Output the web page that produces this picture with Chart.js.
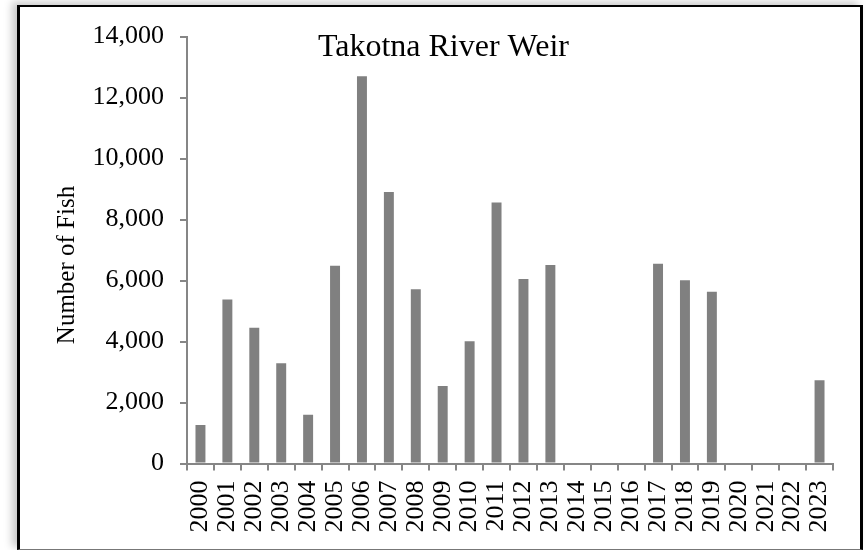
<!DOCTYPE html>
<html>
<head>
<meta charset="utf-8">
<script src="https://cdn.jsdelivr.net/npm/chart.js@4/dist/chart.umd.min.js"></script>
<style>
  html, body { margin: 0; padding: 0; background: #fff; }
  body { width: 866px; height: 550px; position: relative; overflow: hidden; }
  #frame {
    position: absolute; left: 17px; top: 5px; width: 846px; height: 545px;
    box-sizing: border-box; background: #fff;
    border-top: 2px solid #000; border-left: 3px solid #000; border-right: 3px solid #000;
    border-bottom: 1px solid #777;
    box-shadow: -5px -3px 8px rgba(0,0,0,0.22);
  }
  #wrap { position: absolute; left: 0; top: 0; width: 866px; height: 550px; }
</style>
</head>
<body>
<div id="frame"></div>
<div id="wrap"><canvas id="chart"></canvas></div>
<script>
// escapement counts (null = no count that year)
const years = ["2000","2001","2002","2003","2004","2005","2006","2007","2008","2009","2010","2011",
               "2012","2013","2014","2015","2016","2017","2018","2019","2020","2021","2022","2023"];
const fishCounts = [1260, 5380, 4450, 3290, 1600, 6480, 12700, 8900, 5710, 2540, 4010, 8560,
                    6050, 6510, null, null, null, 6550, 6010, 5630, null, null, null, 2730];
const yTicks = [0, 2000, 4000, 6000, 8000, 10000, 12000, 14000];
const chartTitle = "Takotna River Weir";
const yTitle = "Number of Fish";

const axisGray = "#868686";
const serif = "'Liberation Serif', 'Times New Roman', serif";

// title inside the plot area, and the y title a bit below the middle
const textPlugin = {
  id: "extraText",
  afterDraw(chart) {
    const { ctx, chartArea } = chart;
    ctx.save();
    ctx.fillStyle = "#000";
    ctx.textAlign = "center";
    ctx.textBaseline = "middle";
    ctx.font = "32px " + serif;
    ctx.fillText(chartTitle, chartArea.left + (chartArea.right - chartArea.left) * 0.397, chartArea.top + 11);
    ctx.font = "25px " + serif;
    ctx.translate(67, (chartArea.top + chartArea.bottom) / 2 + 15);
    ctx.rotate(-Math.PI / 2);
    ctx.fillText(yTitle, 0, 0);
    ctx.restore();
  }
};

new Chart(document.getElementById("chart"), {
  type: "bar",
  data: {
    labels: years,
    datasets: [{
      data: fishCounts,
      backgroundColor: "#808080",
      borderWidth: 0,
      barPercentage: 0.37,
      categoryPercentage: 1.0
    }]
  },
  options: {
    responsive: true,
    maintainAspectRatio: false,
    animation: false,
    layout: { padding: { top: 36.5, right: 33, bottom: 0, left: 0 } },
    plugins: { legend: { display: false }, tooltip: { enabled: false }, title: { display: false } },
    scales: {
      x: {
        offset: true,
        grid: { display: true, drawOnChartArea: false, drawTicks: true, tickLength: 7, color: axisGray, lineWidth: 2, offset: true },
        border: { display: true, color: axisGray, width: 2 },
        ticks: { autoSkip: false, minRotation: 90, maxRotation: 90, padding: 10, color: "#000", font: { family: serif, size: 26 } },
        afterFit(scale) { scale.height = 86.5; }
      },
      y: {
        min: 0, max: 14000,
        afterBuildTicks(scale) { scale.ticks = yTicks.map(v => ({ value: v })); },
        grid: { display: true, drawOnChartArea: false, drawTicks: true, tickLength: 7, color: axisGray, lineWidth: 2 },
        border: { display: true, color: axisGray, width: 2 },
        ticks: {
          padding: 16, color: "#000", font: { family: serif, size: 26 },
          callback: v => v.toLocaleString("en-US")
        },
        afterFit(scale) { scale.width = 187; }
      }
    }
  },
  plugins: [textPlugin]
});
</script>
</body>
</html>
